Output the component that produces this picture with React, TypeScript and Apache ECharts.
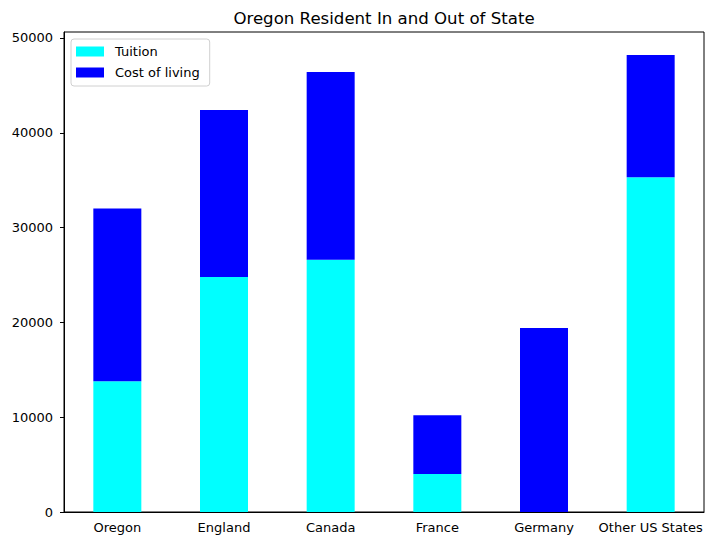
import React, { useEffect, useRef } from "react";
import * as echarts from "echarts";

const categories = ["Oregon", "England", "Canada", "France", "Germany", "Other US States"];
const tuition = [13800, 24800, 26600, 4000, 0, 35300];
const costOfLiving = [18200, 17600, 19800, 6200, 19400, 12900];
const yTicks = [0, 10000, 20000, 30000, 40000, 50000];
const yMax = 50630;

export default function App() {
  const ref = useRef<HTMLDivElement>(null);
  useEffect(() => {
    if (!ref.current) return;
    const chart = echarts.init(ref.current, null, { renderer: "svg" });
    const font = "DejaVu Sans";
    chart.setOption({
      animation: false,
      title: {
        text: "Oregon Resident In and Out of State",
        left: 379,
        textAlign: "center",
        top: 5,
        textStyle: { fontFamily: font, fontSize: 16.6, fontWeight: "normal", color: "#000" },
      },
      legend: {
        orient: "vertical",
        left: 71,
        top: 39,
        icon: "rect",
        itemWidth: 28,
        itemHeight: 10,
        itemGap: 6,
        padding: [5, 10, 6, 5],
        borderColor: "#d0d0d0",
        borderWidth: 1,
        borderRadius: 3,
        backgroundColor: "rgba(255,255,255,0.8)",
        textStyle: { fontFamily: font, fontSize: 13, lineHeight: 15, color: "#000", padding: [0, 0, 0, 6] },
        data: ["Tuition", "Cost of living"],
      },
      grid: {
        left: 64,
        right: 11,
        top: 32,
        bottom: 34,
        show: true,
        borderColor: "#000",
        borderWidth: 1,
        backgroundColor: "transparent",
      },
      xAxis: {
        type: "category",
        data: categories,
        axisLine: { lineStyle: { color: "#000", width: 1 } },
        axisTick: { alignWithLabel: true, length: 4, lineStyle: { color: "#000" } },
        axisLabel: { fontFamily: font, fontSize: 13, color: "#000", margin: 9, interval: 0 },
      },
      yAxis: {
        type: "value",
        min: 0,
        max: yMax,
        interval: 10000,
        splitLine: { show: false },
        axisLine: { show: true, lineStyle: { color: "#000", width: 1 } },
        axisTick: { show: true, length: 4, lineStyle: { color: "#000" }, customValues: yTicks },
        axisLabel: {
          fontFamily: font,
          fontSize: 13,
          color: "#000",
          margin: 11,
          customValues: yTicks,
          formatter: (v: number) => String(v),
        },
      },
      series: [
        {
          name: "Tuition",
          type: "bar",
          stack: "total",
          data: tuition,
          barWidth: "45%",
          itemStyle: { color: "#00ffff" },
        },
        {
          name: "Cost of living",
          type: "bar",
          stack: "total",
          data: costOfLiving,
          barWidth: "45%",
          itemStyle: { color: "#0000ff" },
        },
      ],
    });
    return () => chart.dispose();
  }, []);
  return <div ref={ref} style={{ width: 715, height: 546, position: "absolute", left: 0, top: 0 }} />;
}
